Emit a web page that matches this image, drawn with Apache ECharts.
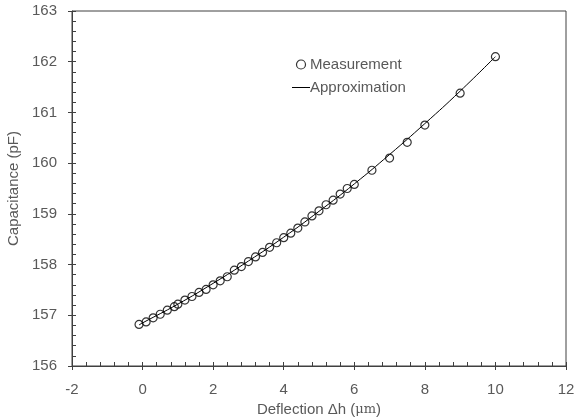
<!DOCTYPE html>
<html>
<head>
    <meta charset="UTF-8">
    <title>Capacitance vs Deflection</title>
    <script src="https://cdn.jsdelivr.net/npm/echarts@6/dist/echarts.min.js"></script>
</head>
<body style="margin:0;">
    <div id="chart" style="width: 574px;height:418px;"></div>
    <script type="text/javascript">
        // Measured points (deflection in um, capacitance in pF)
        var measX = [-0.1, 0.1, 0.3, 0.5, 0.7, 0.9, 1.0, 1.2, 1.4, 1.6, 1.8, 2.0, 2.2, 2.4, 2.6, 2.8, 3.0, 3.2, 3.4,
            3.6, 3.8, 4.0, 4.2, 4.4, 4.6, 4.8, 5.0, 5.2, 5.4, 5.6, 5.8, 6.0, 6.5, 7.0, 7.5, 8.0, 9.0, 10.0];
        var measY = [156.82, 156.87, 156.95, 157.02, 157.10, 157.17, 157.22, 157.30, 157.37, 157.45, 157.51, 157.60,
            157.68, 157.76, 157.89, 157.96, 158.06, 158.15, 158.24, 158.34, 158.43, 158.53, 158.62, 158.72, 158.84,
            158.96, 159.06, 159.18, 159.27, 159.39, 159.50, 159.58, 159.86, 160.10, 160.41, 160.75, 161.38, 162.10];

        // Approximation curve
        var approxX = [-0.1, 0, 1, 2, 3, 4, 5, 6, 7, 8, 9, 10];
        var approxY = [156.81, 156.85, 157.22, 157.63, 158.07, 158.54, 159.05, 159.59, 160.17, 160.78, 161.42, 162.10];

        var textColor = '#595959';
        var axisColor = '#404040';
        var font = 'Liberation Sans';

        var myChart = echarts.init(document.getElementById('chart'));

        var option = {
            animation: false,
            grid: {
                left: 72, right: 8, top: 11, bottom: 52,
                outerBoundsMode: 'none',
                show: true, borderColor: axisColor, borderWidth: 1
            },
            legend: {
                orient: 'vertical',
                left: 287, top: 52,
                itemGap: 8,
                itemWidth: 18, itemHeight: 9,
                textStyle: { color: textColor, fontSize: 15, fontFamily: font, padding: [0, 0, 0, -5] },
                data: [
                    { name: 'Measurement', icon: 'circle', itemStyle: { color: 'transparent', borderColor: '#000', borderWidth: 1.2 } },
                    { name: 'Approximation', icon: 'path://M0,0H18V1H0Z', itemStyle: { color: '#000', borderWidth: 0 } }
                ]
            },
            xAxis: [
                {
                    type: 'value', min: -2, max: 12, interval: 2,
                    name: 'Deflection Δh ({m|μm})',
                    nameLocation: 'middle', nameGap: 31,
                    nameTextStyle: {
                        color: textColor, fontSize: 15, fontFamily: font,
                        rich: { m: { fontFamily: 'DejaVu Serif', fontSize: 13, color: textColor } }
                    },
                    axisLine: { onZero: false, lineStyle: { color: axisColor } },
                    axisTick: { inside: true, length: 4, lineStyle: { color: axisColor } },
                    minorTick: { show: true, splitNumber: 5, length: 4, lineStyle: { color: axisColor } },
                    axisLabel: { color: textColor, fontSize: 15, fontFamily: font, margin: 16 },
                    splitLine: { show: false }
                },
                {
                    type: 'value', min: -2, max: 12, interval: 2, position: 'bottom',
                    axisLine: { show: false, onZero: false },
                    axisTick: { inside: false, length: 4, lineStyle: { color: axisColor } },
                    axisLabel: { show: false },
                    splitLine: { show: false }
                }
            ],
            yAxis: [
                {
                    type: 'value', min: 156, max: 163, interval: 1,
                    name: 'Capacitance (pF)',
                    nameLocation: 'middle', nameGap: 44,
                    nameTextStyle: { color: textColor, fontSize: 15, fontFamily: font },
                    axisLine: { show: true, onZero: false, lineStyle: { color: axisColor } },
                    axisTick: { show: true, inside: true, length: 4, lineStyle: { color: axisColor } },
                    minorTick: { show: true, splitNumber: 5, length: 4, lineStyle: { color: axisColor } },
                    axisLabel: { color: textColor, fontSize: 15, fontFamily: font, margin: 15 },
                    splitLine: { show: false }
                },
                {
                    type: 'value', min: 156, max: 163, interval: 1, position: 'left',
                    axisLine: { show: false, onZero: false },
                    axisTick: { show: true, inside: false, length: 4, lineStyle: { color: axisColor } },
                    axisLabel: { show: false },
                    splitLine: { show: false }
                }
            ],
            series: [
                {
                    name: 'Approximation',
                    type: 'line',
                    xAxisIndex: 0, yAxisIndex: 0,
                    data: approxX.map(function (x, i) { return [x, approxY[i]]; }),
                    smooth: true,
                    symbol: 'none',
                    lineStyle: { color: '#000', width: 1 },
                    itemStyle: { color: '#000' },
                    z: 2
                },
                {
                    name: 'Measurement',
                    type: 'scatter',
                    xAxisIndex: 0, yAxisIndex: 0,
                    data: measX.map(function (x, i) { return [x, measY[i]]; }),
                    symbol: 'circle',
                    symbolSize: 8,
                    itemStyle: { color: 'transparent', borderColor: '#000', borderWidth: 1.2 },
                    z: 3
                }
            ]
        };

        myChart.setOption(option);
    </script>
</body>
</html>
